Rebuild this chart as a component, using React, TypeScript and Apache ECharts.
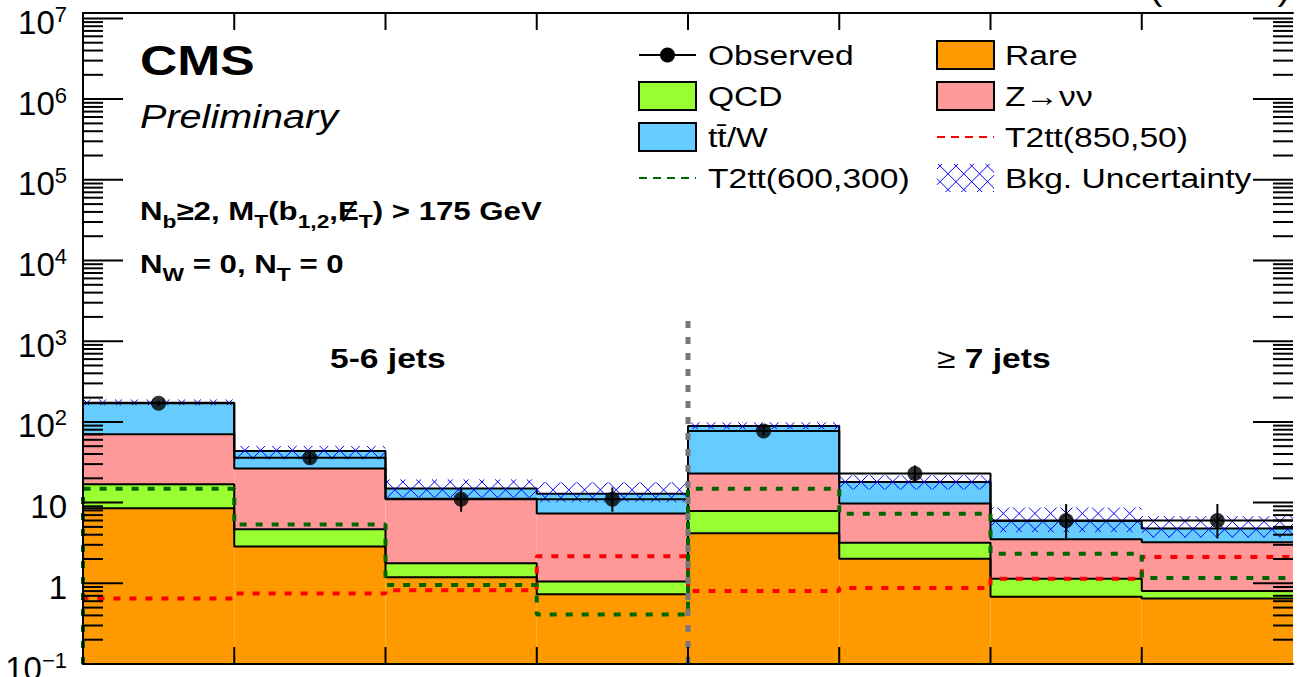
import React, { useEffect, useRef } from "react";
import * as echarts from "echarts";

// ---------------- data ----------------
const rare = [8.5, 2.85, 1.19, 0.73, 4.17, 2.02, 0.68, 0.65];
const qcd = [8.4, 1.82, 0.58, 0.32, 3.7, 1.17, 0.46, 0.15];
const zinv = [53.3, 21.7, 9.4, 6.26, 15.0, 6.53, 2.37, 2.42];
const ttw = [102.8, 17.2, 3.8, 5.59, 66.1, 8.28, 2.41, 1.54];
const observed = [170, 36, 11, 11, 77, 23, 6, 6];
const obsErrUp = [13.5, 6.5, 4.4, 4.4, 9.8, 5.9, 3.6, 3.6];
const obsErrDown = [12.5, 5.8, 3.3, 3.3, 8.8, 4.8, 2.4, 2.4];
const bkgUncLow = [161, 34.4, 11.6, 10.1, 81, 14.6, 4.3, 3.7];
const bkgUncHigh = [190, 50.3, 19.4, 17.8, 99, 21.8, 8.7, 6.8];
const t2tt850 = [0.65, 0.745, 0.82, 2.16, 0.8, 0.875, 1.14, 2.12];
const t2tt600 = [14.9, 5.34, 0.95, 0.41, 14.9, 7.3, 2.33, 1.16];
const yMin = 0.1;
const yMax = 1.167e7;
const binEdges = [0, 1, 2, 3, 4, 5, 6, 7, 8];
const dividerAt = 4;
const dividerTop = 1800;
const yTickExponents = [-1, 0, 1, 2, 3, 4, 5, 6, 7];
const minorMantissas = [2, 3, 4, 5, 6, 7, 8, 9];

const NAMES = {
  obs: "Observed",
  rare: "Rare",
  qcd: "QCD",
  z: "Z\u2192\u03bd\u03bd",
  ttw: "t\u0074\u0304/W",
  s850: "T2tt(850,50)",
  s600: "T2tt(600,300)",
  unc: "Bkg. Uncertainty",
};
const COL = {
  rare: "#ff9900",
  qcd: "#99ff33",
  z: "#ff9999",
  ttw: "#66ccff",
  red: "#ff0000",
  green: "#006600",
  gray: "#777777",
  hatch: "#0000ff",
};

const FONT = "'Liberation Sans', Arial, Helvetica, 'DejaVu Sans', sans-serif";
const SX = 1.2; // horizontal stretch of the reference canvas text
const HATCH = 15.8;

function hatchLines(x0: number, y0: number, x1: number, y1: number, s: number, stroke: string) {
  const els: any[] = [];
  const style = { stroke, lineWidth: 1 };
  for (let c = Math.ceil((y0 - x1) / s) * s; c <= y1 - x0; c += s) {
    const a = Math.max(x0, y0 - c);
    const b = Math.min(x1, y1 - c);
    if (b > a) els.push({ type: "line", shape: { x1: a, y1: a + c, x2: b, y2: b + c }, style });
  }
  for (let c = Math.ceil((x0 + y0) / s) * s; c <= x1 + y1; c += s) {
    const a = Math.max(x0, c - y1);
    const b = Math.min(x1, c - y0);
    if (b > a) els.push({ type: "line", shape: { x1: a, y1: c - a, x2: b, y2: c - b }, style });
  }
  return els;
}

function T(x: number, y: number, text: string, o: any = {}) {
  const align = o.align || "left";
  const va = o.va || "middle";
  return {
    type: "text",
    x,
    y,
    scaleX: SX,
    z: 100,
    silent: true,
    style: {
      text,
      fill: "#000",
      fontFamily: FONT,
      fontSize: o.size || 28,
      fontWeight: o.weight || "normal",
      fontStyle: o.fstyle || "normal",
      align,
      textAlign: align,
      verticalAlign: va,
      textVerticalAlign: va,
      rich: o.rich,
    },
  };
}

function buildOption() {
  const bins = rare.map((_, i) => i);
  const nBins = bins.length;
  const cum1 = bins.map((i) => rare[i]);
  const cum2 = bins.map((i) => cum1[i] + qcd[i]);
  const cum3 = bins.map((i) => cum2[i] + zinv[i]);
  const cum4 = bins.map((i) => cum3[i] + ttw[i]);
  const floor = bins.map(() => yMin);

  const step = (vals: number[], fromBottom = false) => {
    const pts: number[][] = [];
    if (fromBottom) pts.push([binEdges[0], yMin]);
    vals.forEach((v, i) => {
      pts.push([binEdges[i], v]);
      pts.push([binEdges[i + 1], v]);
    });
    return pts;
  };

  const series: any[] = [];
  const comps = [
    { name: NAMES.rare, color: COL.rare, lo: floor, hi: cum1 },
    { name: NAMES.qcd, color: COL.qcd, lo: cum1, hi: cum2 },
    { name: NAMES.z, color: COL.z, lo: cum2, hi: cum3 },
    { name: NAMES.ttw, color: COL.ttw, lo: cum3, hi: cum4 },
  ];
  comps.forEach((c) => {
    series.push({
      type: "custom",
      name: c.name,
      z: 2,
      silent: true,
      data: bins.map((i) => [binEdges[i], c.lo[i], c.hi[i], binEdges[i + 1]]),
      encode: { x: [0, 3], y: [1, 2] },
      renderItem: (params: any, api: any) => {
        const a = api.coord([api.value(0), api.value(1)]);
        const b = api.coord([api.value(3), api.value(2)]);
        return {
          type: "rect",
          shape: { x: a[0], y: b[1], width: b[0] - a[0], height: a[1] - b[1] },
          style: { fill: c.color },
        };
      },
    });
  });
  [cum1, cum2, cum3, cum4].forEach((c) => {
    series.push({
      type: "line",
      z: 3,
      silent: true,
      symbol: "none",
      data: step(c),
      lineStyle: { color: "#000", width: 2 },
    });
  });
  // background uncertainty (hatched)
  series.push({
    type: "custom",
    name: NAMES.unc,
    z: 4,
    silent: true,
    data: bins.map((i) => [binEdges[i], bkgUncLow[i], bkgUncHigh[i], binEdges[i + 1]]),
    encode: { x: [0, 3], y: [1, 2] },
    renderItem: (params: any, api: any) => {
      const a = api.coord([api.value(0), api.value(1)]);
      const b = api.coord([api.value(3), api.value(2)]);
      return { type: "group", children: hatchLines(a[0], b[1], b[0], a[1], HATCH, COL.hatch) };
    },
  });
  // observed drawn also as a histogram line
  series.push({
    type: "line",
    z: 5,
    silent: true,
    symbol: "none",
    data: step(observed),
    lineStyle: { color: "#000", width: 2 },
  });
  // signals
  series.push({
    type: "line",
    name: NAMES.s850,
    z: 6,
    silent: true,
    clip: false,
    symbol: "none",
    data: step(t2tt850, true),
    lineStyle: { color: COL.red, width: 4, type: [7, 9], cap: "butt" },
  });
  series.push({
    type: "line",
    name: NAMES.s600,
    z: 6,
    silent: true,
    clip: false,
    symbol: "none",
    data: step(t2tt600, true),
    lineStyle: { color: COL.green, width: 4, type: [7, 9], cap: "butt" },
  });
  // divider between jet multiplicities
  series.push({
    type: "line",
    z: 7,
    silent: true,
    symbol: "none",
    data: [
      [dividerAt, yMin],
      [dividerAt, dividerTop],
    ],
    lineStyle: { color: COL.gray, width: 5, type: [7, 9], cap: "butt" },
  });
  // error bars
  series.push({
    type: "custom",
    z: 8,
    silent: true,
    data: bins.map((i) => [
      (binEdges[i] + binEdges[i + 1]) / 2,
      observed[i] - obsErrDown[i],
      observed[i] + obsErrUp[i],
    ]),
    encode: { x: 0, y: [1, 2] },
    renderItem: (params: any, api: any) => {
      const a = api.coord([api.value(0), api.value(1)]);
      const b = api.coord([api.value(0), api.value(2)]);
      return {
        type: "line",
        shape: { x1: a[0], y1: a[1], x2: b[0], y2: b[1] },
        style: { stroke: "#000", lineWidth: 2 },
      };
    },
  });
  series.push({
    type: "scatter",
    name: NAMES.obs,
    z: 9,
    silent: true,
    symbol: "circle",
    symbolSize: 15,
    itemStyle: { color: "#000" },
    data: bins.map((i) => [(binEdges[i] + binEdges[i + 1]) / 2, observed[i]]),
  });

  // y ticks (major + log minor) on both sides, drawn inward
  const yTickItems: number[][] = [];
  yTickExponents.forEach((e) => {
    yTickItems.push([0, Math.pow(10, e), 40]);
    if (e < yTickExponents[yTickExponents.length - 1]) {
      minorMantissas.forEach((m) => yTickItems.push([0, m * Math.pow(10, e), 20]));
    }
  });
  const tickStyle = { stroke: "#000", lineWidth: 2 };
  series.push({
    type: "custom",
    z: 30,
    silent: true,
    data: yTickItems,
    encode: { x: 0, y: 1 },
    renderItem: (params: any, api: any) => {
      const v = api.value(1);
      const len = api.value(2);
      const p = api.coord([binEdges[0], v]);
      const q = api.coord([binEdges[nBins], v]);
      return {
        type: "group",
        children: [
          { type: "line", shape: { x1: p[0], y1: p[1], x2: p[0] + len, y2: p[1] }, style: tickStyle },
          { type: "line", shape: { x1: q[0] - len, y1: q[1], x2: q[0], y2: q[1] }, style: tickStyle },
        ],
      };
    },
  });
  // x ticks at the inner bin edges, top and bottom, drawn inward
  series.push({
    type: "custom",
    z: 30,
    silent: true,
    data: binEdges.slice(1, -1).map((e) => [e, yMin]),
    encode: { x: 0, y: 1 },
    renderItem: (params: any, api: any) => {
      const e = api.value(0);
      const p = api.coord([e, yMin]);
      const q = api.coord([e, yMax]);
      return {
        type: "group",
        children: [
          { type: "line", shape: { x1: p[0], y1: p[1], x2: p[0], y2: p[1] - 17 }, style: tickStyle },
          { type: "line", shape: { x1: q[0], y1: q[1], x2: q[0], y2: q[1] + 17 }, style: tickStyle },
        ],
      };
    },
  });

  const axisCommonX = {
    type: "value",
    min: binEdges[0],
    max: binEdges[nBins],
    interval: 1,
    z: 20,
    axisLine: { show: true, onZero: false, lineStyle: { color: "#000", width: 2 } },
    axisTick: { show: false },
    axisLabel: { show: false },
    splitLine: { show: false },
  };
  const supText: Record<number, string> = {};
  yTickExponents.forEach((e) => {
    supText[e] = e === 0 ? "{b|1}" : e === 1 ? "{b|10}" : `{b|10}{s|${e < 0 ? "\u2212" + -e : e}}`;
  });
  const axisCommonY = {
    type: "log",
    logBase: 10,
    min: yMin,
    max: yMax,
    splitNumber: 8,
    z: 20,
    axisLine: { show: true, lineStyle: { color: "#000", width: 2 } },
    axisTick: { show: false },
    splitLine: { show: false },
  };

  // ---------- legend & annotations (graphic) ----------
  const rows = [55, 96, 137, 178];
  const c1 = 639;
  const c2 = 937;
  const iw = 57;
  const ih = 28;
  const t1 = 708;
  const t2 = 1005;
  const box = (x: number, cy: number, fill: string) => ({
    type: "rect",
    z: 100,
    shape: { x, y: cy - ih / 2, width: iw, height: ih },
    style: { fill, stroke: "#000", lineWidth: 2 },
  });
  const dash = (x: number, cy: number, stroke: string) => ({
    type: "line",
    z: 100,
    shape: { x1: x, y1: cy, x2: x + iw, y2: cy },
    style: { stroke, lineWidth: 2, lineDash: [8, 6] },
  });
  const bold = { fontFamily: FONT, fontWeight: "bold", fontSize: 26 };
  const sub = { fontFamily: FONT, fontWeight: "bold", fontSize: 19, padding: [20, 0, 0, 0] };

  const graphic: any[] = [
    { type: "line", z: 100, shape: { x1: c1, y1: rows[0], x2: c1 + iw, y2: rows[0] }, style: { stroke: "#000", lineWidth: 2 } },
    { type: "circle", z: 100, shape: { cx: c1 + iw / 2, cy: rows[0], r: 7.5 }, style: { fill: "#000" } },
    box(c1, rows[1], COL.qcd),
    box(c1, rows[2], COL.ttw),
    dash(c1, rows[3], COL.green),
    box(c2, rows[0], COL.rare),
    box(c2, rows[1], COL.z),
    dash(c2, rows[2], COL.red),
    {
      type: "group",
      z: 100,
      children: hatchLines(c2, rows[3] - ih / 2, c2 + iw, rows[3] + ih / 2, HATCH, COL.hatch),
    },
    T(t1, rows[0], NAMES.obs),
    T(t1, rows[1], NAMES.qcd),
    T(t1, rows[2], NAMES.ttw),
    T(t1, rows[3], NAMES.s600),
    T(t2, rows[0], NAMES.rare),
    T(t2, rows[1], NAMES.z),
    T(t2, rows[2], NAMES.s850),
    T(t2, rows[3], NAMES.unc),
    T(140, 60, "CMS", { size: 43, weight: "bold" }),
    T(140, 117, "Preliminary", { size: 33, fstyle: "italic" }),
    T(140, 211, "{m|N}{s|b}{m|\u22652, M}{s|T}{m|(b}{s|1,2}{m|,\u0246}{s|T}{m|) > 175 GeV}", {
      rich: { m: bold, s: sub },
    }),
    T(140, 264, "{m|N}{s|W}{m| = 0, N}{s|T}{m| = 0}", { rich: { m: bold, s: sub } }),
    T(330, 358, "5-6 jets", { size: 28, weight: "bold" }),
    T(937, 358, "{r|\u2265 }{b|7 jets}", {
      rich: {
        r: { fontFamily: FONT, fontSize: 28, fontWeight: "normal" },
        b: { fontFamily: FONT, fontSize: 28, fontWeight: "bold" },
      },
    }),
    T(1290, 5, "(13 TeV)", { size: 31, align: "right", va: "bottom" }),
  ];

  return {
    animation: false,
    backgroundColor: "#ffffff",
    grid: { left: 83, right: 8, top: 13, bottom: 13, containLabel: false, outerBoundsMode: "none" },
    xAxis: [
      { ...axisCommonX, position: "bottom" },
      { ...axisCommonX, position: "top" },
    ],
    yAxis: [
      {
        ...axisCommonY,
        position: "left",
        axisLabel: {
          show: true,
          showMaxLabel: false,
          margin: 16,
          color: "#000",
          formatter: (v: number) => {
            const l = Math.log10(v);
            const e = Math.round(l);
            if (Math.abs(l - e) > 1e-6) return "";
            return supText[e] || "";
          },
          rich: {
            b: { fontFamily: FONT, fontSize: 33, color: "#000", padding: [8, 0, 0, 0] },
            s: { fontFamily: FONT, fontSize: 22, color: "#000", padding: [8, 0, 16, 0] },
          },
        },
      },
      { ...axisCommonY, position: "right", axisLabel: { show: false } },
    ],
    series,
    graphic: { elements: graphic },
  };
}

export default function App() {
  const ref = useRef<HTMLDivElement>(null);
  useEffect(() => {
    const chart = echarts.init(ref.current as HTMLDivElement, undefined, {
      renderer: "svg",
      width: 1301,
      height: 677,
    });
    chart.setOption(buildOption() as any);
    return () => chart.dispose();
  }, []);
  return (
    <div
      ref={ref}
      style={{ position: "fixed", left: 0, top: 0, width: 1301, height: 677, background: "#fff" }}
    />
  );
}
